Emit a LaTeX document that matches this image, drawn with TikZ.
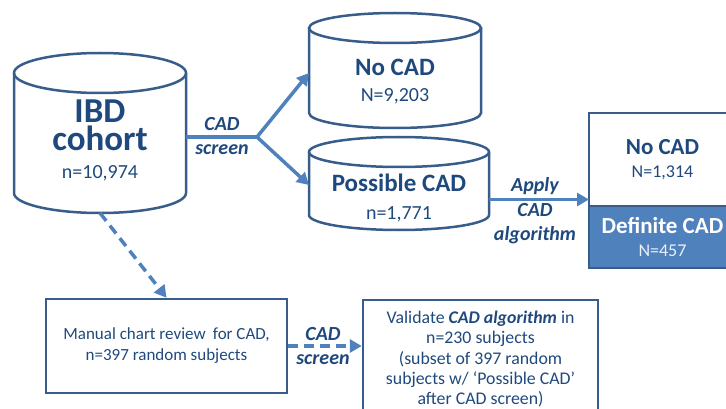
\documentclass[tikz,border=0pt]{standalone}
\usepackage{fontspec}
\setmainfont{Carlito}
\usetikzlibrary{positioning}
\usetikzlibrary{arrows.meta}
\usepackage{xcolor}
\definecolor{txtblue}{RGB}{31,73,125}
\definecolor{edgeblue}{RGB}{56,93,138}
\definecolor{flowblue}{RGB}{79,129,189}
\newcommand{\fsz}[2]{\fontsize{#1}{#2}\selectfont}
% cylinder outline round a body node: node, half width, cap radius
\newcommand{\dbshape}[3]{%
  \draw[dbline] (#1.north) ellipse [x radius=#2pt, y radius=#3pt];
  \draw[dbline] (#1.north west) -- ([yshift=#3pt]#1.south west)
    arc [start angle=180, end angle=360, x radius=#2pt, y radius=#3pt]
    -- (#1.north east);}

\begin{document}
\begin{tikzpicture}[x=1pt,y=-1pt,
  every node/.style = {text=txtblue, align=center, inner sep=0pt},
  db/.style = {rectangle, outer sep=0pt},
  dbline/.style = {draw=edgeblue, line width=2.5pt},
  box/.style = {rectangle, draw=edgeblue, line width=2.5pt},
  flow/.style = {draw=flowblue, line width=3.5pt},
  tip/.style = {-{Triangle[length=12pt,width=13pt]}},
  lbl/.style = {font=\fsz{20}{24.5}\bfseries\itshape}
  ]
  \clip (0,0) rectangle (726,409);

  % cohorts
  \node[db, minimum width=172pt, minimum height=140pt,
    font=\fsz{35}{28}\bfseries] (ibd) at (100,143)
    {IBD\\cohort\\{\fsz{20}{28}\mdseries n=10,974\rule[-8pt]{0pt}{0pt}}};
  \node[db, minimum width=172pt, minimum height=100pt,
    font=\fsz{25}{26}\bfseries] (nocad) at (395,78)
    {\rule{0pt}{24pt}No CAD\\{\fsz{20}{26}\mdseries N=9,203}};
  \node[db, minimum width=180pt, minimum height=78pt,
    font=\fsz{25}{28}\bfseries] (possible) at (399,191)
    {\rule{0pt}{31pt}Possible CAD\\{\fsz{20}{28}\mdseries n=1,771}};
  \dbshape{ibd}{86}{20}
  \dbshape{nocad}{86}{15}
  \dbshape{possible}{90}{15}

  % algorithm result
  \node[box, outer sep=0pt, fill=white, minimum width=147pt, minimum height=93pt,
    font=\fsz{23}{23.5}\bfseries] (algnocad) at (662.5,159.5)
    {No CAD\\{\fsz{18}{23.5}\mdseries N=1,314}};
  \node[box, outer sep=0pt, fill=flowblue, text=white, minimum width=147pt,
    minimum height=62pt, font=\fsz{23}{22.5}\bfseries, below=0pt of algnocad]
    (defcad) {Definite CAD\\{\fsz{18}{22.5}\mdseries\color{white!88!flowblue}N=457}};

  % validation
  \node[box, minimum width=241pt, minimum height=94pt, font=\fsz{17}{21}]
    (review) at (166.5,346) {Manual chart review\hspace{0.2em} for CAD,\\n=397 random subjects};
  \node[box, minimum width=235pt, minimum height=118pt, font=\fsz{17.8}{20.3}]
    (validate) at (480.5,359)
    {Validate \textbf{\textit{CAD algorithm}} in\\n=230 subjects\\(subset of 397 random\\subjects w/ ‘Possible CAD’\\after CAD screen)};

  % labels
  \node[lbl] (screenA) at (222,136) {CAD\\screen};
  \node[lbl] (apply) at (535,211) {Apply\\CAD\\algorithm};
  \node[lbl] (screenB) at (323,346) {CAD\\screen};

  % arrows
  \coordinate (fork) at (257,137);
  \draw[flow] (ibd.east |- fork) -- (fork);
  \draw[flow, {Triangle[length=12pt,width=13pt]}-{Triangle[length=12pt,width=13pt]}]
    ([yshift=5pt]nocad.west) -- (fork) -- ([yshift=6pt]possible.west);
  \path (algnocad.west) ++(0,40) coordinate (applyin);
  \draw[flow, tip] (possible.east |- applyin) -- (applyin);
  \draw[flow, tip, dash pattern=on 10pt off 6pt] (ibd.south) -- (review.north);
  \draw[flow, tip, dash pattern=on 10pt off 6pt] (review.east) -- (review.east -| validate.west);
\end{tikzpicture}
\end{document}
